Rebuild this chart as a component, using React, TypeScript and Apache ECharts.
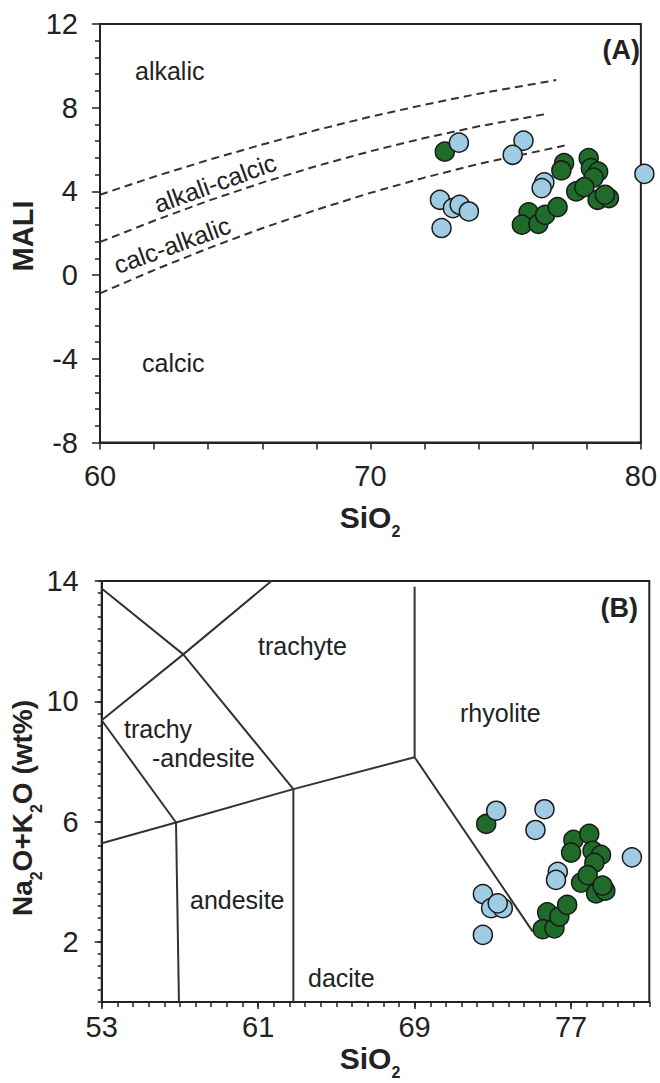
import React, { useEffect, useRef } from 'react';
import * as echarts from 'echarts';

const FONT = '"Liberation Sans", Arial, Helvetica, sans-serif';
const INK = '#222222';
const GREEN = '#1f6b2a';
const BLUE = '#a0cce3';

// ---- Panel A: MALI vs SiO2 ----
const maliXTicks = [60, 70, 80];
const maliYTicks = [-8, -4, 0, 4, 8, 12];
const maliGreen = [
  [72.75, 5.9], [77.16, 5.35], [77.06, 5.0], [78.07, 5.59], [78.15, 5.11], [78.42, 4.95],
  [78.25, 4.66], [77.61, 4.0], [77.91, 4.2], [78.4, 3.6], [78.82, 3.68], [78.67, 3.84],
  [75.85, 3.0], [75.6, 2.41], [76.21, 2.45], [76.46, 2.88], [76.92, 3.25],
];
const maliBlue = [
  [73.27, 6.33], [75.66, 6.43], [75.26, 5.75], [76.43, 4.43], [76.33, 4.16], [80.13, 4.84],
  [72.57, 3.6], [73.05, 3.2], [73.3, 3.36], [73.64, 3.04], [72.63, 2.25],
];
const boundAlkalic = [
  [60, 3.84], [62, 4.7], [64, 5.5], [66, 6.24], [68, 6.93], [70, 7.57], [72, 8.14], [74, 8.67], [76.87, 9.32],
];
const boundAlkaliCalcic = [
  [60, 1.58], [62, 2.6], [64, 3.55], [66, 4.42], [68, 5.21], [70, 5.92], [72, 6.55], [74, 7.11], [76.5, 7.7],
];
const boundCalcAlkalic = [
  [60, -0.87], [62, 0.24], [64, 1.28], [66, 2.24], [68, 3.12], [70, 3.93], [72, 4.66], [74, 5.31], [77.18, 6.19],
];

// ---- Panel B: TAS ----
const tasXTicks = [53, 61, 69, 77];
const tasYTicks = [2, 6, 10, 14];
const tasGreen = [
  [72.66, 5.92], [77.12, 5.39], [77.0, 4.97], [77.93, 5.59], [78.1, 5.03], [78.53, 4.89],
  [78.19, 4.63], [77.51, 3.97], [77.85, 4.22], [78.28, 3.61], [78.75, 3.7], [78.61, 3.87],
  [75.78, 2.98], [75.55, 2.42], [76.15, 2.45], [76.4, 2.84], [76.8, 3.23],
];
const tasBlue = [
  [73.17, 6.36], [75.64, 6.41], [75.18, 5.72], [76.32, 4.33], [76.23, 4.06], [72.49, 3.59],
  [72.91, 3.12], [73.51, 3.12], [73.25, 3.28], [72.49, 2.23], [80.11, 4.81],
];
const tasLines = [
  [[53, 13.75], [57.17, 11.56], [62.8, 7.08]],
  [[53, 9.37], [57.17, 11.56], [61.68, 14.0]],
  [[53, 9.37], [56.8, 5.97]],
  [[53, 5.28], [56.8, 5.97], [62.8, 7.08], [69.0, 8.14], [75.04, 2.34]],
  [[56.8, 5.97], [56.95, 0]],
  [[62.8, 7.08], [62.8, 0]],
  [[69.0, 8.14], [69.0, 13.81]],
];

const lineStyleAxis = { color: INK, width: 2 };
const tickStyle = { color: INK, width: 1.5 };
const labelStyle = { fontSize: 29, color: INK, fontFamily: FONT };

function txt(text: string, x: number, y: number, extra: any = {}) {
  return {
    type: 'text', x, y, silent: true, rotation: extra.rotation || 0, z: 10,
    style: {
      text, fontSize: extra.fontSize || 25, fontWeight: extra.fontWeight || 'normal',
      fontFamily: FONT, fill: INK, align: extra.align || 'left', verticalAlign: 'middle',
      rich: extra.rich,
    },
  };
}

function subRich(main: number, sub: number, pad: number) {
  return {
    m: { fontSize: main, lineHeight: main, fontWeight: 'bold', fontFamily: FONT, fill: INK, color: INK },
    s: { fontSize: sub, lineHeight: sub, fontWeight: 'bold', fontFamily: FONT, fill: INK, color: INK, padding: [pad, 0, 0, 0] },
  };
}

export default function App() {
  const ref = useRef<HTMLDivElement>(null);
  useEffect(() => {
    const chart = echarts.init(ref.current!, null, { renderer: 'svg' });
    const scatter = (data: number[][], color: string, xi: number, yi: number, z: number) => ({
      type: 'scatter', xAxisIndex: xi, yAxisIndex: yi, data, symbolSize: 19, clip: false, z,
      itemStyle: { color, borderColor: '#1a1a1a', borderWidth: 1.5, opacity: 1 },
    });
    const option: any = {
      animation: false,
      backgroundColor: '#fff',
      grid: [
        { left: 100, top: 24, width: 549, height: 418.5, show: true, borderColor: INK, borderWidth: 2, backgroundColor: 'transparent' },
        { left: 101.7, top: 581, width: 547.6, height: 421, show: true, borderColor: INK, borderWidth: 2, backgroundColor: 'transparent' },
      ],
      xAxis: [
        {
          gridIndex: 0, type: 'value', position: 'bottom', min: 60, max: 80, interval: 10,
          axisLine: { show: true, onZero: false, lineStyle: lineStyleAxis },
          axisTick: { show: true, length: 7, lineStyle: tickStyle },
          minorTick: { show: true, splitNumber: 5, length: 7, lineStyle: tickStyle },
          axisLabel: { ...labelStyle, margin: 19, customValues: maliXTicks },
          splitLine: { show: false }, minorSplitLine: { show: false },
        },
        {
          gridIndex: 1, type: 'value', position: 'bottom', min: 53, max: 81, interval: 8,
          axisLine: { show: true, onZero: false, lineStyle: lineStyleAxis },
          axisTick: { show: true, length: 7, lineStyle: tickStyle, customValues: tasXTicks },
          axisLabel: { ...labelStyle, margin: 10, customValues: tasXTicks },
          splitLine: { show: false },
        },
        {
          gridIndex: 1, type: 'value', position: 'bottom', min: 53, max: 81, interval: 0.8,
          axisLine: { show: false, onZero: false },
          axisTick: { show: true, length: 5, lineStyle: tickStyle },
          axisLabel: { show: false },
          splitLine: { show: false },
        },
      ],
      yAxis: [
        {
          gridIndex: 0, type: 'value', position: 'left', min: -8, max: 12, interval: 4,
          axisLine: { show: true, onZero: false, lineStyle: lineStyleAxis },
          axisTick: { show: true, length: 8, lineStyle: tickStyle },
          minorTick: { show: true, splitNumber: 5, length: 5, lineStyle: tickStyle },
          axisLabel: { ...labelStyle, margin: 22, customValues: maliYTicks },
          splitLine: { show: false }, minorSplitLine: { show: false },
        },
        {
          gridIndex: 1, type: 'value', position: 'left', min: 0, max: 14, interval: 2,
          axisLine: { show: true, onZero: false, lineStyle: lineStyleAxis },
          axisTick: { show: true, length: 7, lineStyle: tickStyle, customValues: tasYTicks },
          axisLabel: { ...labelStyle, margin: 23, customValues: tasYTicks },
          splitLine: { show: false },
        },
        {
          gridIndex: 1, type: 'value', position: 'left', min: 0, max: 14, interval: 0.4,
          axisLine: { show: false, onZero: false },
          axisTick: { show: true, length: 4, lineStyle: tickStyle },
          axisLabel: { show: false },
          splitLine: { show: false },
        },
      ],
      series: [
        ...[boundAlkalic, boundAlkaliCalcic, boundCalcAlkalic].map((d) => ({
          type: 'line', xAxisIndex: 0, yAxisIndex: 0, data: d, symbol: 'none', silent: true, z: 1,
          lineStyle: { color: '#333', width: 2, type: [8, 5] },
        })),
        scatter(maliGreen, GREEN, 0, 0, 3),
        scatter(maliBlue, BLUE, 0, 0, 4),
        ...tasLines.map((d) => ({
          type: 'line', xAxisIndex: 1, yAxisIndex: 1, data: d, symbol: 'none', silent: true, z: 1,
          lineStyle: { color: '#333', width: 2 },
        })),
        scatter(tasGreen, GREEN, 1, 1, 3),
        scatter(tasBlue, BLUE, 1, 1, 4),
      ],
      graphic: [
        // Panel A texts
        txt('alkalic', 135, 71),
        txt('calcic', 142, 363),
        txt('alkali-calcic', 215, 183, { align: 'center', rotation: 0.349 }),
        txt('calc-alkalic', 172, 245, { align: 'center', rotation: 0.349 }),
        txt('(A)', 640, 50, { align: 'right', fontSize: 27, fontWeight: 'bold' }),
        txt('MALI', 22.5, 236, { align: 'center', rotation: Math.PI / 2, fontSize: 29, fontWeight: 'bold' }),
        txt('{m|SiO}{s|2}', 370, 517, { align: 'center', rich: subRich(30, 16, 28) }),
        // Panel B texts
        txt('trachyte', 258, 646),
        txt('rhyolite', 460, 713),
        txt('trachy', 124, 729),
        txt('-andesite', 152, 758),
        txt('andesite', 190, 900),
        txt('dacite', 308, 978),
        txt('(B)', 638, 608, { align: 'right', fontSize: 27, fontWeight: 'bold' }),
        txt('{m|SiO}{s|2}', 370, 1058, { align: 'center', rich: subRich(30, 16, 28) }),
        txt('{m|Na}{s|2}{m|O+K}{s|2}{m|O (wt%)}', 22.5, 808, { align: 'center', rotation: Math.PI / 2, rich: subRich(28, 16, 28) }),
      ],
    };
    chart.setOption(option);
    return () => chart.dispose();
  }, []);
  return (
    <div
      ref={ref}
      style={{ position: 'absolute', left: 0, top: 0, width: 660, height: 1083, background: '#fff' }}
    />
  );
}
